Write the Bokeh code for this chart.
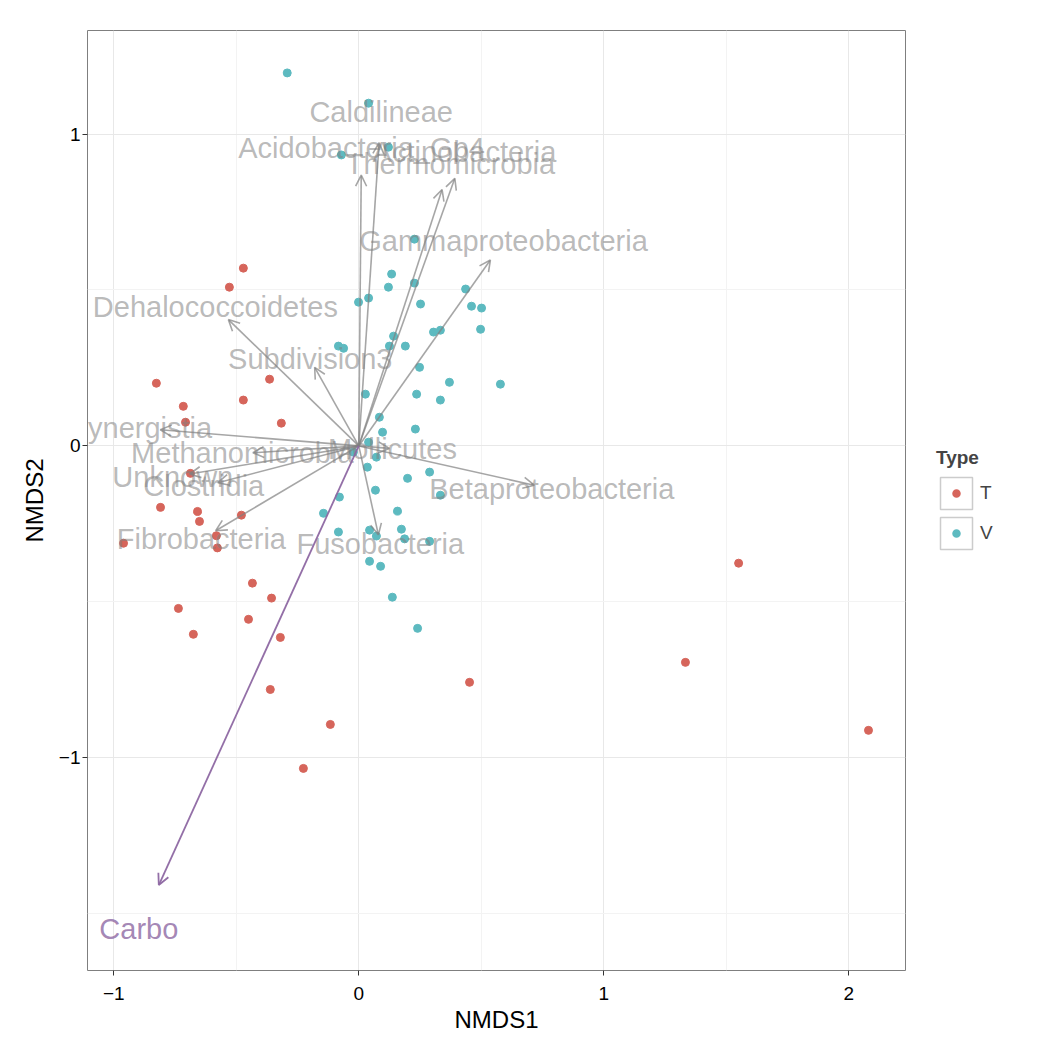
from bokeh.plotting import figure
from bokeh.models import (Range1d, FixedTicker, ColumnDataSource, Arrow, OpenHead,
                          Legend, LegendItem)
from bokeh.core.properties import value
from bokeh.embed import file_html
from bokeh.resources import INLINE

# ---- site scores (NMDS) ----
T_x = [-0.471, -0.528, -0.826, -0.716, -0.364, -0.471, -0.707, -0.316, -0.687, -0.809,
       -0.658, -0.650, -0.479, -0.581, -0.960, -0.577, -0.434, -0.356, -0.736, -0.450,
       -0.675, -0.320, -0.361, -0.116, -0.226, 0.452, 1.550, 1.333, 2.080]
T_y = [0.570, 0.509, 0.201, 0.127, 0.214, 0.147, 0.076, 0.073, -0.088, -0.197,
       -0.210, -0.242, -0.222, -0.288, -0.312, -0.327, -0.440, -0.488, -0.521, -0.556,
       -0.604, -0.614, -0.781, -0.893, -1.034, -0.758, -0.376, -0.694, -0.912]

V_x = [-0.292, 0.040, -0.071, 0.121, 0.227, 0.134, 0.040, -0.001, 0.121, 0.227,
       0.252, 0.436, 0.460, 0.501, 0.497, 0.333, 0.305, 0.142, 0.125, 0.190,
       -0.083, -0.062, 0.248, 0.027, 0.236, 0.370, 0.578, 0.333, 0.084, 0.097,
       0.231, 0.040, -0.022, 0.072, 0.035, 0.289, 0.199, 0.068, 0.333, -0.079,
       -0.144, 0.158, -0.083, 0.044, 0.072, 0.174, 0.187, 0.289, 0.044, 0.089,
       0.137, 0.240]
V_y = [1.196, 1.099, 0.933, 0.958, 0.663, 0.551, 0.474, 0.461, 0.509, 0.522,
       0.455, 0.503, 0.448, 0.442, 0.374, 0.371, 0.365, 0.352, 0.320, 0.320,
       0.320, 0.313, 0.252, 0.166, 0.166, 0.204, 0.198, 0.147, 0.092, 0.044,
       0.054, 0.012, -0.020, -0.036, -0.068, -0.084, -0.104, -0.142, -0.158, -0.164,
       -0.216, -0.209, -0.276, -0.270, -0.289, -0.267, -0.298, -0.306, -0.370, -0.386,
       -0.485, -0.585]

# ---- fitted taxa vectors ----
taxa = ["Acidobacteria_Gp4", "Caldilineae", "Thermomicrobia", "Actinobacteria",
        "Gammaproteobacteria", "Dehalococcoidetes", "Subdivision3", "Synergistia",
        "Methanomicrobia", "Unknown", "Clostridia", "Fibrobacteria", "Fusobacteria",
        "Mollicutes", "Betaproteobacteria"]
taxa_x = [0.010, 0.083, 0.340, 0.392, 0.537, -0.532, -0.180, -0.810,
          -0.432, -0.690, -0.575, -0.584, 0.080, 0.125, 0.716]
taxa_y = [0.868, 0.972, 0.822, 0.858, 0.596, 0.405, 0.252, 0.052,
          -0.022, -0.090, -0.118, -0.272, -0.285, -0.008, -0.126]

# ---- environmental vector ----
env = ["Carbo"]
env_x = [-0.816]
env_y = [-1.408]

label_mult = 1.1

x_ticks = [-1, 0, 1, 2]
x_minor = [-0.5, 0.5, 1.5]
y_ticks = [-1, 0, 1]
y_minor = [-1.5, -0.5, 0.5]

RED = "#d6655b"
TEAL = "#5dbac0"
PURPLE = "#8d67a2"
FONT = "Liberation Sans"

p = figure(frame_width=818, frame_height=940,
           x_range=Range1d(-1.107, 2.231), y_range=Range1d(-1.682, 1.332),
           output_backend="svg", toolbar_location=None,
           min_border_left=87, min_border_top=30, min_border_right=125,
           min_border_bottom=68)
p.background_fill_color = "white"
p.border_fill_color = "white"
p.outline_line_color = "#7f7f7f"
p.outline_line_width = 1

p.xaxis.ticker = FixedTicker(ticks=x_ticks, minor_ticks=x_minor)
p.yaxis.ticker = FixedTicker(ticks=y_ticks, minor_ticks=y_minor)
for g in (p.xgrid, p.ygrid):
    g.grid_line_color = "#e8e8e8"
    g.grid_line_width = 1
    g.minor_grid_line_color = "#f3f3f3"
    g.minor_grid_line_width = 1

for ax in (p.xaxis, p.yaxis):
    ax.axis_line_color = None
    ax.major_tick_line_color = "#333333"
    ax.major_tick_out = 5
    ax.major_tick_in = 0
    ax.minor_tick_out = 0
    ax.minor_tick_in = 0
    ax.major_label_text_font = FONT
    ax.major_label_text_font_size = "19px"
    ax.major_label_text_color = "black"
    ax.axis_label_text_font = FONT
    ax.axis_label_text_font_size = "24px"
    ax.axis_label_text_font_style = "normal"
    ax.axis_label_text_color = "black"
p.xaxis.axis_label = "NMDS1"
p.yaxis.axis_label = "NMDS2"
p.xaxis.major_label_standoff = 11
p.xaxis.axis_label_standoff = 3
p.yaxis.major_label_standoff = 2
p.yaxis.axis_label_standoff = 8

# points
r_t = p.scatter(T_x, T_y, size=8, fill_color=RED, line_color=RED, line_width=1)
r_v = p.scatter(V_x, V_y, size=8, fill_color=TEAL, line_color=TEAL, line_width=1)

# arrows
n = len(taxa)
src_taxa = ColumnDataSource(dict(x0=[0.0] * n, y0=[0.0] * n, x1=taxa_x, y1=taxa_y))
p.add_layout(Arrow(source=src_taxa, x_start="x0", y_start="y0", x_end="x1", y_end="y1",
                   line_color="grey", line_alpha=0.7, line_width=1.6,
                   end=OpenHead(size=11, line_color="grey", line_alpha=0.7, line_width=1.6)))
src_env = ColumnDataSource(dict(x0=[0.0], y0=[0.0], x1=env_x, y1=env_y))
p.add_layout(Arrow(source=src_env, x_start="x0", y_start="y0", x_end="x1", y_end="y1",
                   line_color=PURPLE, line_alpha=0.95, line_width=1.8,
                   end=OpenHead(size=11, line_color=PURPLE, line_alpha=0.95, line_width=1.8)))

# labels
lab_taxa = ColumnDataSource(dict(x=[v * label_mult for v in taxa_x],
                                 y=[v * label_mult for v in taxa_y], t=taxa))
p.text(x="x", y="y", text="t", source=lab_taxa, text_font=value(FONT),
       text_font_size="29px", text_color="grey", text_alpha=0.55,
       text_align="center", text_baseline="middle")
lab_env = ColumnDataSource(dict(x=[v * label_mult for v in env_x],
                                y=[v * label_mult for v in env_y], t=env))
p.text(x="x", y="y", text="t", source=lab_env, text_font=value(FONT),
       text_font_size="29px", text_color=PURPLE, text_alpha=0.8,
       text_align="center", text_baseline="middle")

# legend helpers (drawn only in the legend; placed outside the visible range)
box_r = p.rect(x=[100], y=[100], width=1, height=1, fill_color="white",
               line_color="#cccccc", line_width=1.5)
leg_t = p.scatter(x=[100], y=[100], size=8, fill_color=RED, line_color="white", line_width=7.5)
leg_v = p.scatter(x=[100], y=[100], size=8, fill_color=TEAL, line_color="white", line_width=7.5)

legend = Legend(items=[LegendItem(label="T", renderers=[box_r, leg_t]),
                       LegendItem(label="V", renderers=[box_r, leg_v])],
                title="Type", location="center_left")
legend.title_text_font = FONT
legend.title_text_font_style = "bold"
legend.title_text_font_size = "19px"
legend.title_standoff = 4
legend.label_text_font = FONT
legend.label_text_font_size = "19px"
legend.label_standoff = 4
legend.glyph_width = 40
legend.glyph_height = 40
legend.spacing = 0
legend.padding = 2
legend.margin = 31
legend.border_line_color = None
legend.background_fill_alpha = 0
p.add_layout(legend, "right")

open("out.html", "w").write(file_html(p, INLINE))
